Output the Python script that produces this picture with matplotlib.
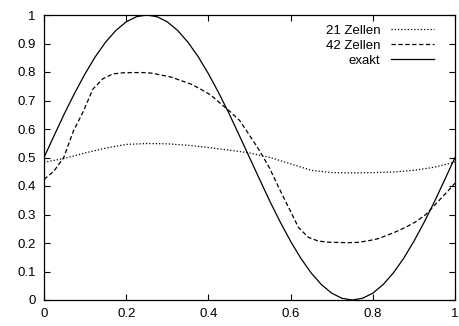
import matplotlib
matplotlib.use("Agg")
import matplotlib.pyplot as plt

plt.rcParams["font.family"] = ["Liberation Sans", "DejaVu Sans"]

# Lösung mit 21 Zellen
x21 = [0.00, 0.05, 0.10, 0.15, 0.20, 0.25, 0.30, 0.35, 0.40, 0.45, 0.50,
       0.55, 0.60, 0.65, 0.70, 0.75, 0.80, 0.85, 0.90, 0.95, 1.00]
u21 = [0.483, 0.497, 0.516, 0.533, 0.546, 0.549, 0.548, 0.543, 0.535, 0.526, 0.516,
       0.500, 0.478, 0.455, 0.447, 0.446, 0.447, 0.449, 0.455, 0.466, 0.484]

# Lösung mit 42 Zellen
x42 = [0.000, 0.024, 0.048, 0.071, 0.095, 0.119, 0.143, 0.167, 0.190, 0.214, 0.238,
       0.262, 0.286, 0.310, 0.333, 0.357, 0.381, 0.405, 0.429, 0.452, 0.476, 0.500,
       0.524, 0.548, 0.571, 0.595, 0.619, 0.643, 0.667, 0.690, 0.714, 0.738, 0.762,
       0.786, 0.810, 0.833, 0.857, 0.881, 0.905, 0.929, 0.952, 0.976, 1.000]
u42 = [0.423, 0.452, 0.500, 0.591, 0.660, 0.740, 0.776, 0.793, 0.797, 0.798, 0.798,
       0.796, 0.789, 0.782, 0.770, 0.758, 0.740, 0.720, 0.690, 0.662, 0.630, 0.578,
       0.525, 0.465, 0.395, 0.325, 0.255, 0.220, 0.207, 0.203, 0.202, 0.201, 0.202,
       0.207, 0.214, 0.226, 0.240, 0.256, 0.275, 0.300, 0.335, 0.372, 0.410]

# exakte Lösung
xex = [0.000, 0.025, 0.050, 0.075, 0.100, 0.125, 0.150, 0.175, 0.200, 0.225,
       0.250, 0.275, 0.300, 0.325, 0.350, 0.375, 0.400, 0.425, 0.450, 0.475,
       0.500, 0.525, 0.550, 0.575, 0.600, 0.625, 0.650, 0.675, 0.700, 0.725,
       0.750, 0.775, 0.800, 0.825, 0.850, 0.875, 0.900, 0.925, 0.950, 0.975, 1.000]
uex = [0.500, 0.578, 0.655, 0.727, 0.794, 0.854, 0.905, 0.946, 0.976, 0.994,
       1.000, 0.994, 0.976, 0.946, 0.905, 0.854, 0.794, 0.727, 0.655, 0.578,
       0.500, 0.422, 0.345, 0.273, 0.206, 0.146, 0.095, 0.054, 0.024, 0.006,
       0.000, 0.006, 0.024, 0.054, 0.095, 0.146, 0.206, 0.273, 0.345, 0.422, 0.500]

xticks = [0, 0.2, 0.4, 0.6, 0.8, 1]
xticklabels = ["0", "0.2", "0.4", "0.6", "0.8", "1"]
yticks = [0, 0.1, 0.2, 0.3, 0.4, 0.5, 0.6, 0.7, 0.8, 0.9, 1]
yticklabels = ["0", "0.1", "0.2", "0.3", "0.4", "0.5", "0.6", "0.7", "0.8", "0.9", "1"]

fig = plt.figure(figsize=(4.59, 3.26), dpi=100)
ax = fig.add_axes([44 / 459, 26 / 326, 411 / 459, 285 / 326])

ax.plot(x21, u21, color="black", lw=0.9, ls=(0, (1, 1.6)), label="21 Zellen")
ax.plot(x42, u42, color="black", lw=0.9, ls=(0, (3.5, 2)), label="42 Zellen")
ax.plot(xex, uex, color="black", lw=0.9, ls="-", label="exakt")

ax.set_xlim(0, 1)
ax.set_ylim(0, 1)
ax.set_xticks(xticks)
ax.set_xticklabels(xticklabels)
ax.set_yticks(yticks)
ax.set_yticklabels(yticklabels)
ax.tick_params(direction="in", length=4, width=0.8, top=True, right=True,
               labelsize=9.5, pad=6, colors="black")
for s in ax.spines.values():
    s.set_linewidth(0.9)

# Legende: Text rechtsbündig, Linienmuster rechts daneben
ax.legend(loc="upper right", bbox_to_anchor=(1.0 - 10 / 411, 1.0 + 1 / 285),
          frameon=False, markerfirst=False, fontsize=9.5, handlelength=3.3,
          handletextpad=0.8, labelspacing=0.2, borderaxespad=0.6, borderpad=0.2)

fig.savefig("out.png", dpi=100)
